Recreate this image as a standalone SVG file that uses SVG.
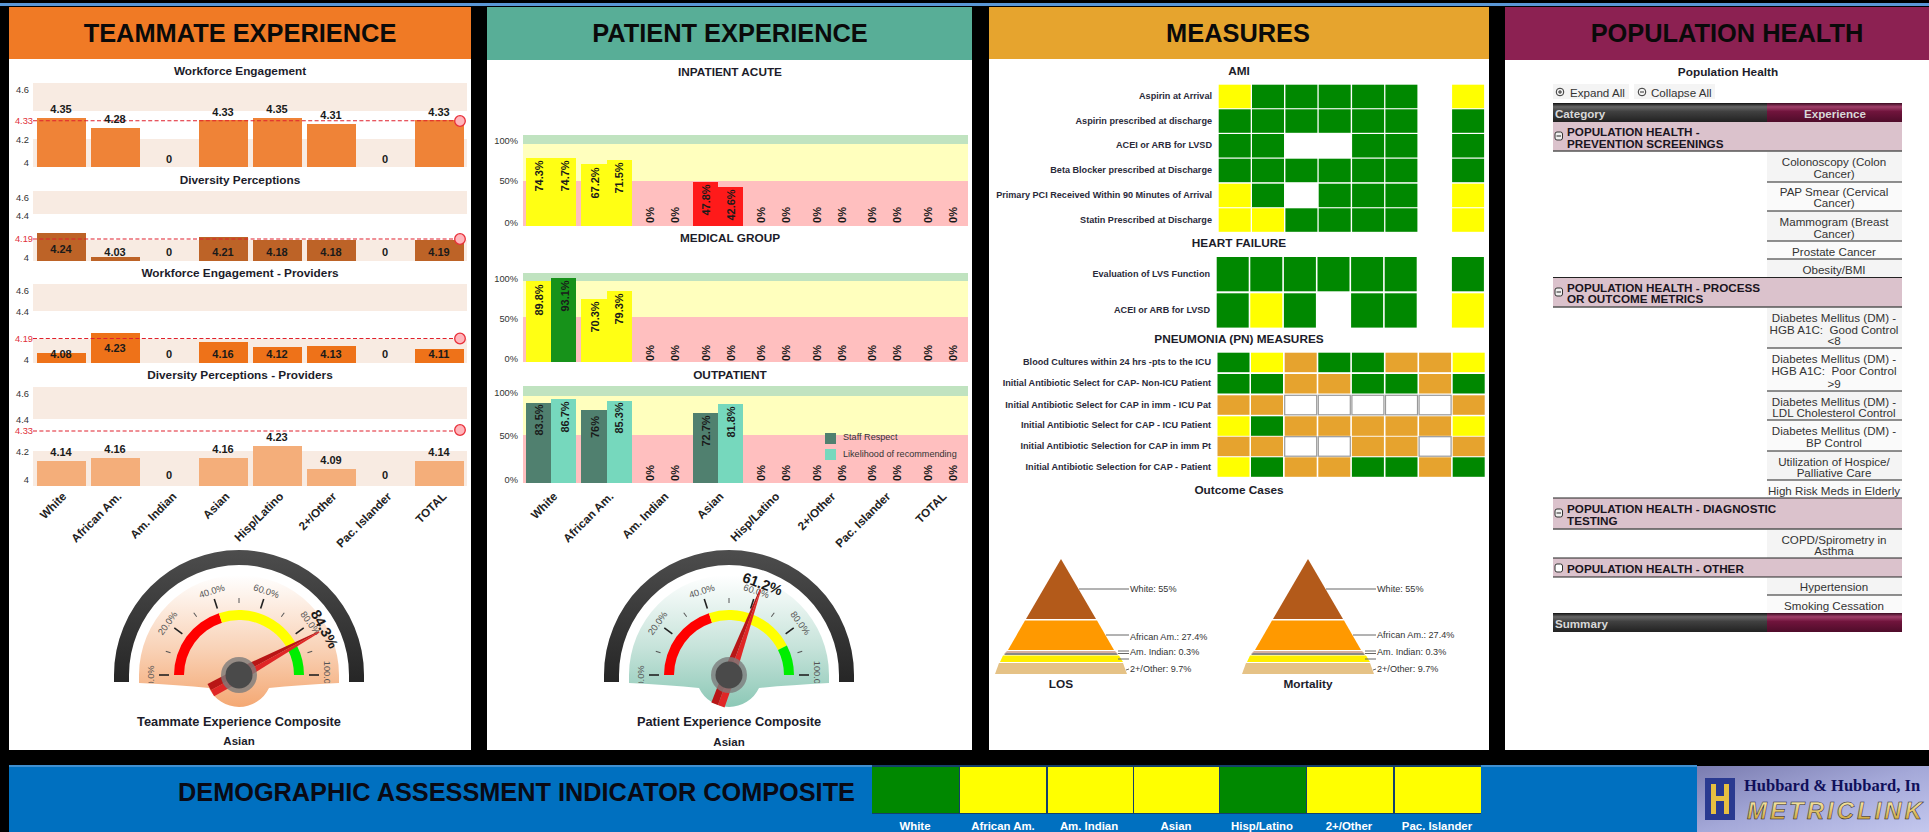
<svg xmlns="http://www.w3.org/2000/svg" width="1929" height="832" viewBox="0 0 1929 832">
<style>
text{font-family:"Liberation Sans",Arial,sans-serif;dominant-baseline:central}
.h{font-size:25.4px;font-weight:bold;text-anchor:middle;fill:#0a0a0a}
.t{font-size:11.8px;font-weight:bold;text-anchor:middle;fill:#1c1c2a}
.ax{font-size:9.3px;text-anchor:end;fill:#333}
.rd{fill:#e0303a}
.v{font-size:11px;font-weight:bold;text-anchor:middle;fill:#1a1a1a}
.xl{font-size:11.7px;font-weight:bold;text-anchor:end;fill:#222}
.pv{font-size:11px;font-weight:bold;text-anchor:middle;fill:#1a1a1a}
.m{font-size:9.1px;font-weight:bold;text-anchor:end;fill:#2a2a3a}
.py{font-size:9.1px;fill:#333}
.ln{stroke:#666;stroke-width:1;fill:none}
.g{fill:#008800}.y{fill:#ffff00}.o{fill:#e6a32e}.w{fill:#fff;stroke:#999;stroke-width:1.2}
.dash{stroke:#e0202c;stroke-width:1.1;stroke-dasharray:4 2.4;fill:none}
.dot{fill:#ffb6bc;stroke:#e8303a;stroke-width:1.3}
.pe{fill:#f8ebe2}
.sec{fill:#dbc2cc}
.cell{fill:#f4f4f4}.cell2{fill:#fafafa}
.sl{stroke:#222;stroke-width:1.2}
.ss{stroke:#555;stroke-width:1.4}
.ct{font-size:11.6px;text-anchor:middle;fill:#333}
.st{font-size:11.7px;font-weight:bold;fill:#1a1420}
.hd{font-size:11.6px;font-weight:bold;fill:#d8d8d8}
.dl{font-size:11.4px;font-weight:bold;text-anchor:middle;fill:#fff}
.gt{font-size:9.3px;text-anchor:middle;fill:#555}
.gv{font-size:14.5px;font-weight:bold;text-anchor:middle;fill:#1a1a1a}
.gc{font-size:12.8px;font-weight:bold;text-anchor:middle;fill:#1c1c2a}
.ga{font-size:11.5px;font-weight:bold;text-anchor:middle;fill:#1c1c2a}
.icon{fill:#f0f0f0;stroke:#333;stroke-width:1}
</style>
<defs>
<linearGradient id="ring" x1="0" y1="0" x2="0" y2="1"><stop offset="0" stop-color="#4d4d4d"/><stop offset="1" stop-color="#262626"/></linearGradient>
<linearGradient id="faceO" x1="0" y1="0" x2="0" y2="1"><stop offset="0" stop-color="#fff"/><stop offset=".55" stop-color="#f9d3b8"/><stop offset="1" stop-color="#f4a873"/></linearGradient>
<linearGradient id="faceT" x1="0" y1="0" x2="0" y2="1"><stop offset="0" stop-color="#fff"/><stop offset=".55" stop-color="#c6e3da"/><stop offset="1" stop-color="#8cc8b6"/></linearGradient>
<linearGradient id="thD" x1="0" y1="0" x2="0" y2="1"><stop offset="0" stop-color="#111"/><stop offset=".2" stop-color="#666"/><stop offset=".45" stop-color="#404040"/><stop offset="1" stop-color="#222"/></linearGradient>
<linearGradient id="thM" x1="0" y1="0" x2="0" y2="1"><stop offset="0" stop-color="#3a0a20"/><stop offset=".2" stop-color="#a0406a"/><stop offset=".45" stop-color="#70143c"/><stop offset="1" stop-color="#4f0c2a"/></linearGradient>
<linearGradient id="logo" x1="0" y1="0" x2="1" y2="1"><stop offset="0" stop-color="#7a7cb0"/><stop offset=".5" stop-color="#a4a8d8"/><stop offset="1" stop-color="#c4c8ee"/></linearGradient>
<linearGradient id="mk" x1="0" y1="0" x2="0" y2="1"><stop offset="0" stop-color="#fff6c0"/><stop offset="1" stop-color="#c89a28"/></linearGradient>
<clipPath id="gclip"><rect x="-120" y="-120" width="240" height="128"/></clipPath>
<g id="scale">
<path d="M-65,0A65,65 0 0 1 -20.1,-61.8L-17,-52.3A55,55 0 0 0 -55,0Z" fill="#ff0000"/>
<path d="M-20.1,-61.8A65,65 0 0 1 57.9,-29.5L49,-25A55,55 0 0 0 -17,-52.3Z" fill="#ffff00"/>
<path d="M57.9,-29.5A65,65 0 0 1 65,0L55,0A55,55 0 0 0 49,-25Z" fill="#00ee00"/>
<g stroke="#222" stroke-width="1.6">
<line x1="-80" x2="-70"/><line x1="-80" x2="-70" transform="rotate(36)"/><line x1="-80" x2="-70" transform="rotate(72)"/><line x1="-80" x2="-70" transform="rotate(108)"/><line x1="-80" x2="-70" transform="rotate(144)"/><line x1="-80" x2="-70" transform="rotate(180)"/>
</g>
<g stroke="#555" stroke-width="1">
<line x1="-77" x2="-72" transform="rotate(18)"/><line x1="-77" x2="-72" transform="rotate(54)"/><line x1="-77" x2="-72" transform="rotate(90)"/><line x1="-77" x2="-72" transform="rotate(126)"/><line x1="-77" x2="-72" transform="rotate(162)"/>
</g>
<g clip-path="url(#gclip)">
<text class="gt" x="-1" y="-88" transform="rotate(-90)">0.0%</text>
<text class="gt" y="-88" transform="rotate(-54)">20.0%</text>
<text class="gt" y="-88" transform="rotate(-18)">40.0%</text>
<text class="gt" y="-88" transform="rotate(18)">60.0%</text>
<text class="gt" y="-88" transform="rotate(54)">80.0%</text>
<text class="gt" x="1.5" y="-88" transform="rotate(90)">100.0%</text>
</g>
</g>
<path id="ringp" d="M-125,7L-125,0A125,125 0 0 1 125,0L125,7L110,7L110,0A110,110 0 0 0 -110,0L-110,7Z" fill="url(#ring)"/>
<path id="facep" d="M-100,8L-100,0A100,100 0 0 1 100,0L100,8Q60,10 30,13A33.2,33.2 0 0 1 -30,13Q-60,10 -100,8Z"/>
<g id="needle"><polygon points="-91,-.8 0,-6.5 32,-7 32,0 -91,0" fill="#e02626"/><polygon points="-91,.8 0,6.5 32,7 32,0 -91,0" fill="#b81616"/></g>
<g id="hub"><circle r="18" fill="#7c7c7c" fill-opacity=".8"/><circle r="13.5" fill="#4a4a4a"/></g>
</defs>

<rect width="1929" height="832" fill="#000"/>
<rect y="3" width="1929" height="3" fill="#5a97d6"/>

<g id="teammate-experience">
<rect x="9" y="7" width="462" height="743" fill="#fff"/>
<rect x="9" y="7" width="462" height="52" fill="#f07a25"/>
<text class="h" x="240" y="33">TEAMMATE EXPERIENCE</text>

<g id="workforce-engagement">
<text class="t" x="240" y="71">Workforce Engagement</text>
<rect class="pe" x="33" y="83" width="434" height="28"/><rect class="pe" x="33" y="139" width="434" height="28"/>
<text class="ax" x="29" y="90">4.6</text><text class="ax rd" x="33" y="121">4.33</text><text class="ax" x="29" y="140">4.2</text><text class="ax" x="29" y="163">4</text>
<g fill="#ef8337"><rect x="37" y="118" width="49" height="49"/><rect x="91" y="128" width="49" height="39"/><rect x="199" y="120" width="49" height="47"/><rect x="253" y="118" width="49" height="49"/><rect x="307" y="124" width="49" height="43"/><rect x="415" y="120" width="49" height="47"/></g>
<line class="dash" x1="33" x2="460" y1="120.7" y2="120.7"/><circle class="dot" cx="460" cy="121" r="5.3"/>
<text class="v" x="61" y="109">4.35</text><text class="v" x="115" y="119">4.28</text><text class="v" x="169" y="159">0</text><text class="v" x="223" y="112">4.33</text><text class="v" x="277" y="109">4.35</text><text class="v" x="331" y="115">4.31</text><text class="v" x="385" y="159">0</text><text class="v" x="439" y="112">4.33</text>
</g>

<g id="diversity-perceptions">
<text class="t" x="240" y="180">Diversity Perceptions</text>
<rect class="pe" x="33" y="191" width="434" height="23"/><rect class="pe" x="33" y="240" width="434" height="21"/>
<text class="ax" x="29" y="198">4.6</text><text class="ax" x="29" y="216">4.4</text><text class="ax rd" x="33" y="239">4.19</text><text class="ax" x="29" y="258">4</text>
<g fill="#bd6327"><rect x="37" y="233" width="49" height="28"/><rect x="91" y="257" width="49" height="4"/><rect x="199" y="237" width="49" height="24"/><rect x="253" y="240" width="49" height="21"/><rect x="307" y="240" width="49" height="21"/><rect x="415" y="240" width="49" height="21"/></g>
<line class="dash" x1="33" x2="460" y1="239" y2="239"/><circle class="dot" cx="460" cy="239" r="5.3"/>
<text class="v" x="61" y="249">4.24</text><text class="v" x="115" y="252">4.03</text><text class="v" x="169" y="252">0</text><text class="v" x="223" y="252">4.21</text><text class="v" x="277" y="252">4.18</text><text class="v" x="331" y="252">4.18</text><text class="v" x="385" y="252">0</text><text class="v" x="439" y="252">4.19</text>
</g>

<g id="workforce-engagement-providers">
<text class="t" x="240" y="273">Workforce Engagement - Providers</text>
<rect class="pe" x="33" y="284" width="434" height="27"/><rect class="pe" x="33" y="339" width="434" height="24"/>
<text class="ax" x="29" y="291">4.6</text><text class="ax" x="29" y="312">4.4</text><text class="ax rd" x="33" y="339">4.19</text><text class="ax" x="29" y="360">4</text>
<g fill="#ee7219"><rect x="37" y="353" width="49" height="10"/><rect x="91" y="333" width="49" height="30"/><rect x="199" y="342" width="49" height="21"/><rect x="253" y="347" width="49" height="16"/><rect x="307" y="346" width="49" height="17"/><rect x="415" y="349" width="49" height="14"/></g>
<line class="dash" x1="33" x2="460" y1="338.5" y2="338.5"/><circle class="dot" cx="460" cy="338.5" r="5.3"/>
<text class="v" x="61" y="354">4.08</text><text class="v" x="115" y="348">4.23</text><text class="v" x="169" y="354">0</text><text class="v" x="223" y="354">4.16</text><text class="v" x="277" y="354">4.12</text><text class="v" x="331" y="354">4.13</text><text class="v" x="385" y="354">0</text><text class="v" x="439" y="354">4.11</text>
</g>

<g id="diversity-perceptions-providers">
<text class="t" x="240" y="375">Diversity Perceptions - Providers</text>
<rect class="pe" x="33" y="387" width="434" height="32"/><rect class="pe" x="33" y="451" width="434" height="35"/>
<text class="ax" x="29" y="394">4.6</text><text class="ax" x="29" y="420">4.4</text><text class="ax rd" x="33" y="431">4.33</text><text class="ax" x="29" y="452">4.2</text><text class="ax" x="29" y="480">4</text>
<g fill="#f4ae7a"><rect x="37" y="461" width="49" height="25"/><rect x="91" y="458" width="49" height="28"/><rect x="199" y="458" width="49" height="28"/><rect x="253" y="446" width="49" height="40"/><rect x="307" y="469" width="49" height="17"/><rect x="415" y="461" width="49" height="25"/></g>
<line class="dash" x1="33" x2="460" y1="431" y2="431"/><circle class="dot" cx="460" cy="430" r="5.3"/>
<text class="v" x="61" y="452">4.14</text><text class="v" x="115" y="449">4.16</text><text class="v" x="169" y="475">0</text><text class="v" x="223" y="449">4.16</text><text class="v" x="277" y="437">4.23</text><text class="v" x="331" y="460">4.09</text><text class="v" x="385" y="475">0</text><text class="v" x="439" y="452">4.14</text>
</g>

<g id="teammate-axis">
<text class="xl" transform="translate(64,494) rotate(-45)">White</text>
<text class="xl" transform="translate(119,494) rotate(-45)">African Am.</text>
<text class="xl" transform="translate(174,494) rotate(-45)">Am. Indian</text>
<text class="xl" transform="translate(227,494) rotate(-45)">Asian</text>
<text class="xl" transform="translate(281,494) rotate(-45)">Hisp/Latino</text>
<text class="xl" transform="translate(334,494) rotate(-45)">2+/Other</text>
<text class="xl" transform="translate(389,494) rotate(-45)">Pac. Islander</text>
<text class="xl" transform="translate(444,494) rotate(-45)">TOTAL</text>
</g>

<g id="teammate-gauge" transform="translate(239,675)">
<use href="#ringp"/>
<use href="#facep" fill="url(#faceO)"/>
<use href="#scale"/>
<use href="#needle" transform="rotate(151.7)"/>
<use href="#hub"/>
<text class="gv" y="-97" transform="rotate(61.7)">84.3%</text>
<text class="gc" y="46">Teammate Experience Composite</text>
<text class="ga" y="66">Asian</text>
</g>
</g>

<g id="patient-experience">
<rect x="487" y="7" width="485" height="743" fill="#fff"/>
<rect x="487" y="7" width="485" height="53" fill="#58ae97"/>
<text class="h" x="730" y="33">PATIENT EXPERIENCE</text>

<g id="inpatient-acute">
<text class="t" x="730" y="72">INPATIENT ACUTE</text>
<rect x="523" y="135" width="445" height="9" fill="#c0e3c0"/><rect x="523" y="144" width="445" height="37" fill="#ffffbe"/><rect x="523" y="181" width="445" height="45" fill="#ffbfbf"/>
<text class="ax" x="518" y="141">100%</text><text class="ax" x="518" y="181">50%</text><text class="ax" x="518" y="223">0%</text>
<g fill="#ffff14"><rect x="526" y="158" width="25" height="68"/><rect x="551" y="158" width="25" height="68"/><rect x="581" y="164" width="26" height="62"/><rect x="607" y="160" width="25" height="66"/></g>
<g fill="#ff1a1a"><rect x="693" y="182" width="25" height="44"/><rect x="718" y="187" width="25" height="39"/></g>
<text class="pv" transform="translate(539,176) rotate(-90)">74.3%</text><text class="pv" transform="translate(565,176) rotate(-90)">74.7%</text><text class="pv" transform="translate(595,183) rotate(-90)">67.2%</text><text class="pv" transform="translate(619,178) rotate(-90)">71.5%</text><text class="pv" transform="translate(650,215) rotate(-90)">0%</text><text class="pv" transform="translate(675,215) rotate(-90)">0%</text><text class="pv" transform="translate(706,200) rotate(-90)">47.8%</text><text class="pv" transform="translate(731,205) rotate(-90)">42.6%</text><text class="pv" transform="translate(761,215) rotate(-90)">0%</text><text class="pv" transform="translate(786,215) rotate(-90)">0%</text><text class="pv" transform="translate(817,215) rotate(-90)">0%</text><text class="pv" transform="translate(842,215) rotate(-90)">0%</text><text class="pv" transform="translate(872,215) rotate(-90)">0%</text><text class="pv" transform="translate(897,215) rotate(-90)">0%</text><text class="pv" transform="translate(928,215) rotate(-90)">0%</text><text class="pv" transform="translate(953,215) rotate(-90)">0%</text>
</g>

<g id="medical-group">
<text class="t" x="730" y="238">MEDICAL GROUP</text>
<rect x="523" y="273" width="445" height="8" fill="#c0e3c0"/><rect x="523" y="281" width="445" height="36" fill="#ffffbe"/><rect x="523" y="317" width="445" height="45" fill="#ffbfbf"/>
<text class="ax" x="518" y="279">100%</text><text class="ax" x="518" y="319">50%</text><text class="ax" x="518" y="359">0%</text>
<g fill="#ffff14"><rect x="526" y="281" width="25" height="81"/><rect x="581" y="299" width="26" height="63"/><rect x="607" y="291" width="25" height="71"/></g>
<rect x="551" y="278" width="25" height="84" fill="#17921a"/>
<text class="pv" transform="translate(539,300) rotate(-90)">89.8%</text><text class="pv" transform="translate(565,296) rotate(-90)">93.1%</text><text class="pv" transform="translate(595,317) rotate(-90)">70.3%</text><text class="pv" transform="translate(619,309) rotate(-90)">79.3%</text><text class="pv" transform="translate(650,353) rotate(-90)">0%</text><text class="pv" transform="translate(675,353) rotate(-90)">0%</text><text class="pv" transform="translate(706,353) rotate(-90)">0%</text><text class="pv" transform="translate(731,353) rotate(-90)">0%</text><text class="pv" transform="translate(761,353) rotate(-90)">0%</text><text class="pv" transform="translate(786,353) rotate(-90)">0%</text><text class="pv" transform="translate(817,353) rotate(-90)">0%</text><text class="pv" transform="translate(842,353) rotate(-90)">0%</text><text class="pv" transform="translate(872,353) rotate(-90)">0%</text><text class="pv" transform="translate(897,353) rotate(-90)">0%</text><text class="pv" transform="translate(928,353) rotate(-90)">0%</text><text class="pv" transform="translate(953,353) rotate(-90)">0%</text>
</g>

<g id="outpatient">
<text class="t" x="730" y="375">OUTPATIENT</text>
<rect x="523" y="386" width="445" height="10" fill="#c0e3c0"/><rect x="523" y="396" width="445" height="39" fill="#ffffbe"/><rect x="523" y="435" width="445" height="48" fill="#ffbfbf"/>
<text class="ax" x="518" y="393">100%</text><text class="ax" x="518" y="436">50%</text><text class="ax" x="518" y="480">0%</text>
<g fill="#50806f"><rect x="526" y="403" width="25" height="80"/><rect x="581" y="410" width="26" height="73"/><rect x="693" y="413" width="25" height="70"/></g>
<g fill="#76d8bd"><rect x="551" y="399" width="25" height="84"/><rect x="607" y="401" width="25" height="82"/><rect x="718" y="404" width="25" height="79"/></g>
<text class="pv" transform="translate(539,420) rotate(-90)">83.5%</text><text class="pv" transform="translate(565,417) rotate(-90)">86.7%</text><text class="pv" transform="translate(595,427) rotate(-90)">76%</text><text class="pv" transform="translate(619,418) rotate(-90)">85.3%</text><text class="pv" transform="translate(650,473) rotate(-90)">0%</text><text class="pv" transform="translate(675,473) rotate(-90)">0%</text><text class="pv" transform="translate(706,431) rotate(-90)">72.7%</text><text class="pv" transform="translate(731,422) rotate(-90)">81.8%</text><text class="pv" transform="translate(761,473) rotate(-90)">0%</text><text class="pv" transform="translate(786,473) rotate(-90)">0%</text><text class="pv" transform="translate(817,473) rotate(-90)">0%</text><text class="pv" transform="translate(842,473) rotate(-90)">0%</text><text class="pv" transform="translate(872,473) rotate(-90)">0%</text><text class="pv" transform="translate(897,473) rotate(-90)">0%</text><text class="pv" transform="translate(928,473) rotate(-90)">0%</text><text class="pv" transform="translate(953,473) rotate(-90)">0%</text>
<rect x="825" y="433" width="11" height="11" fill="#50806f"/><rect x="825" y="449" width="11" height="11" fill="#76d8bd"/>
<text class="py" x="843" y="437">Staff Respect</text><text class="py" x="843" y="454">Likelihood of recommending</text>
</g>

<g id="patient-axis">
<text class="xl" transform="translate(555,494) rotate(-45)">White</text>
<text class="xl" transform="translate(611,494) rotate(-45)">African Am.</text>
<text class="xl" transform="translate(666,494) rotate(-45)">Am. Indian</text>
<text class="xl" transform="translate(721,494) rotate(-45)">Asian</text>
<text class="xl" transform="translate(777,494) rotate(-45)">Hisp/Latino</text>
<text class="xl" transform="translate(833,494) rotate(-45)">2+/Other</text>
<text class="xl" transform="translate(888,494) rotate(-45)">Pac. Islander</text>
<text class="xl" transform="translate(944,494) rotate(-45)">TOTAL</text>
</g>

<g id="patient-gauge" transform="translate(729,675)">
<use href="#ringp"/>
<use href="#facep" fill="url(#faceT)"/>
<use href="#scale"/>
<use href="#needle" transform="rotate(110.2)"/>
<use href="#hub"/>
<text class="gv" y="-97" transform="rotate(20.2)">61.2%</text>
<text class="gc" y="46">Patient Experience Composite</text>
<text class="ga" y="67">Asian</text>
</g>
</g>

<g id="measures">
<rect x="989" y="7" width="500" height="743" fill="#fff"/>
<rect x="989" y="7" width="500" height="52" fill="#e6a42e"/>
<text class="h" x="1238" y="33">MEASURES</text>

<g id="ami">
<text class="t" x="1239" y="71">AMI</text>
<text class="m" x="1212" y="96">Aspirin at Arrival</text><text class="m" x="1212" y="121">Aspirin prescribed at discharge</text><text class="m" x="1212" y="145">ACEI or ARB for LVSD</text><text class="m" x="1212" y="170">Beta Blocker prescribed at Discharge</text><text class="m" x="1212" y="195">Primary PCI Received Within 90 Minutes of Arrival</text><text class="m" x="1212" y="220">Statin Prescribed at Discharge</text>
<g>
<rect class="y" x="1218.7" y="84.7" width="32" height="23.5"/><rect class="g" x="1252" y="84.7" width="32" height="23.5"/><rect class="g" x="1285.4" y="84.7" width="32" height="23.5"/><rect class="g" x="1318.7" y="84.7" width="32" height="23.5"/><rect class="g" x="1352.1" y="84.7" width="32" height="23.5"/><rect class="g" x="1385.4" y="84.7" width="32" height="23.5"/><rect class="y" x="1452.1" y="84.7" width="32" height="23.5"/>
<rect class="g" x="1218.7" y="109.3" width="32" height="23.5"/><rect class="g" x="1252" y="109.3" width="32" height="23.5"/><rect class="g" x="1285.4" y="109.3" width="32" height="23.5"/><rect class="g" x="1318.7" y="109.3" width="32" height="23.5"/><rect class="g" x="1352.1" y="109.3" width="32" height="23.5"/><rect class="g" x="1385.4" y="109.3" width="32" height="23.5"/><rect class="g" x="1452.1" y="109.3" width="32" height="23.5"/>
<rect class="g" x="1218.7" y="134" width="32" height="23.5"/><rect class="g" x="1252" y="134" width="32" height="23.5"/><rect class="g" x="1352.1" y="134" width="32" height="23.5"/><rect class="g" x="1385.4" y="134" width="32" height="23.5"/><rect class="g" x="1452.1" y="134" width="32" height="23.5"/>
<rect class="g" x="1218.7" y="158.7" width="32" height="23.5"/><rect class="g" x="1252" y="158.7" width="32" height="23.5"/><rect class="g" x="1285.4" y="158.7" width="32" height="23.5"/><rect class="g" x="1318.7" y="158.7" width="32" height="23.5"/><rect class="g" x="1352.1" y="158.7" width="32" height="23.5"/><rect class="g" x="1385.4" y="158.7" width="32" height="23.5"/><rect class="g" x="1452.1" y="158.7" width="32" height="23.5"/>
<rect class="y" x="1218.7" y="183.7" width="32" height="23.5"/><rect class="g" x="1252" y="183.7" width="32" height="23.5"/><rect class="g" x="1318.7" y="183.7" width="32" height="23.5"/><rect class="g" x="1352.1" y="183.7" width="32" height="23.5"/><rect class="g" x="1385.4" y="183.7" width="32" height="23.5"/><rect class="y" x="1452.1" y="183.7" width="32" height="23.5"/>
<rect class="y" x="1218.7" y="208.3" width="32" height="23.5"/><rect class="y" x="1252" y="208.3" width="32" height="23.5"/><rect class="g" x="1285.4" y="208.3" width="32" height="23.5"/><rect class="g" x="1318.7" y="208.3" width="32" height="23.5"/><rect class="g" x="1352.1" y="208.3" width="32" height="23.5"/><rect class="g" x="1385.4" y="208.3" width="32" height="23.5"/><rect class="y" x="1452.1" y="208.3" width="32" height="23.5"/>
</g>
</g>

<g id="heart-failure">
<text class="t" x="1239" y="243">HEART FAILURE</text>
<text class="m" x="1210" y="274">Evaluation of LVS Function</text><text class="m" x="1210" y="310">ACEI or ARB for LVSD</text>
<rect class="g" x="1216.7" y="257" width="32" height="34.3"/><rect class="g" x="1250.3" y="257" width="32" height="34.3"/><rect class="g" x="1283.9" y="257" width="32" height="34.3"/><rect class="g" x="1317.5" y="257" width="32" height="34.3"/><rect class="g" x="1351.1" y="257" width="32" height="34.3"/><rect class="g" x="1384.7" y="257" width="32" height="34.3"/><rect class="g" x="1451.9" y="257" width="32" height="34.3"/>
<rect class="g" x="1216.7" y="293.3" width="32" height="34.3"/><rect class="y" x="1250.3" y="293.3" width="32" height="34.3"/><rect class="g" x="1283.9" y="293.3" width="32" height="34.3"/><rect class="g" x="1351.1" y="293.3" width="32" height="34.3"/><rect class="g" x="1384.7" y="293.3" width="32" height="34.3"/><rect class="y" x="1451.9" y="293.3" width="32" height="34.3"/>
</g>

<g id="pneumonia">
<text class="t" x="1239" y="339">PNEUMONIA (PN) MEASURES</text>
<text class="m" x="1211" y="362">Blood Cultures within 24 hrs -pts to the ICU</text><text class="m" x="1211" y="383">Initial Antibiotic Select for CAP- Non-ICU Patient</text><text class="m" x="1211" y="405">Initial Antibiotic Select for CAP in imm - ICU Pat</text><text class="m" x="1211" y="425">Initial Antibiotic Select for CAP - ICU Patient</text><text class="m" x="1211" y="446">Initial Antibiotic Selection for CAP in imm Pt</text><text class="m" x="1211" y="467">Initial Antibiotic Selection for CAP - Patient</text>
<rect class="g" x="1217.5" y="352.7" width="32" height="19.5"/><rect class="y" x="1251" y="352.7" width="32" height="19.5"/><rect class="o" x="1284.7" y="352.7" width="32" height="19.5"/><rect class="g" x="1318.3" y="352.7" width="32" height="19.5"/><rect class="g" x="1351.9" y="352.7" width="32" height="19.5"/><rect class="o" x="1385.5" y="352.7" width="32" height="19.5"/><rect class="o" x="1419.1" y="352.7" width="32" height="19.5"/><rect class="y" x="1452.7" y="352.7" width="32" height="19.5"/>
<rect class="g" x="1217.5" y="374" width="32" height="19.5"/><rect class="g" x="1251" y="374" width="32" height="19.5"/><rect class="o" x="1284.7" y="374" width="32" height="19.5"/><rect class="o" x="1318.3" y="374" width="32" height="19.5"/><rect class="g" x="1351.9" y="374" width="32" height="19.5"/><rect class="g" x="1385.5" y="374" width="32" height="19.5"/><rect class="o" x="1419.1" y="374" width="32" height="19.5"/><rect class="g" x="1452.7" y="374" width="32" height="19.5"/>
<rect class="o" x="1217.5" y="395.3" width="32" height="19.5"/><rect class="o" x="1251" y="395.3" width="32" height="19.5"/><rect class="w" x="1284.7" y="395.3" width="32" height="19.5"/><rect class="w" x="1318.3" y="395.3" width="32" height="19.5"/><rect class="w" x="1351.9" y="395.3" width="32" height="19.5"/><rect class="w" x="1385.5" y="395.3" width="32" height="19.5"/><rect class="w" x="1419.1" y="395.3" width="32" height="19.5"/><rect class="o" x="1452.7" y="395.3" width="32" height="19.5"/>
<rect class="y" x="1217.5" y="416.3" width="32" height="19.5"/><rect class="g" x="1251" y="416.3" width="32" height="19.5"/><rect class="o" x="1284.7" y="416.3" width="32" height="19.5"/><rect class="o" x="1318.3" y="416.3" width="32" height="19.5"/><rect class="o" x="1351.9" y="416.3" width="32" height="19.5"/><rect class="o" x="1385.5" y="416.3" width="32" height="19.5"/><rect class="o" x="1419.1" y="416.3" width="32" height="19.5"/><rect class="y" x="1452.7" y="416.3" width="32" height="19.5"/>
<rect class="o" x="1217.5" y="436.7" width="32" height="19.5"/><rect class="o" x="1251" y="436.7" width="32" height="19.5"/><rect class="w" x="1284.7" y="436.7" width="32" height="19.5"/><rect class="w" x="1318.3" y="436.7" width="32" height="19.5"/><rect class="o" x="1351.9" y="436.7" width="32" height="19.5"/><rect class="o" x="1385.5" y="436.7" width="32" height="19.5"/><rect class="w" x="1419.1" y="436.7" width="32" height="19.5"/><rect class="o" x="1452.7" y="436.7" width="32" height="19.5"/>
<rect class="y" x="1217.5" y="457.3" width="32" height="19.5"/><rect class="g" x="1251" y="457.3" width="32" height="19.5"/><rect class="o" x="1284.7" y="457.3" width="32" height="19.5"/><rect class="o" x="1318.3" y="457.3" width="32" height="19.5"/><rect class="g" x="1351.9" y="457.3" width="32" height="19.5"/><rect class="g" x="1385.5" y="457.3" width="32" height="19.5"/><rect class="o" x="1419.1" y="457.3" width="32" height="19.5"/><rect class="g" x="1452.7" y="457.3" width="32" height="19.5"/>
</g>

<g id="outcome-cases">
<text class="t" x="1239" y="490">Outcome Cases</text>
<g id="pyramid-los">
<polygon points="1061,559 1096,619 1026,619" fill="#b35a1a"/>
<polygon points="1025,620.5 1097,620.5 1114,650 1008,650" fill="#ff9900"/>
<polygon points="1007,651 1115,651 1118,654 1004,654" fill="#d8b0a0"/>
<polygon points="1006,653 1116,653 1118,655 1004,655" fill="#888"/>
<polygon points="1003,655.5 1119,655.5 1123,662 1000,662" fill="#ffee00"/>
<polygon points="999,663 1123,663 1127,674 995,674" fill="#e5c286"/>
<path class="ln" d="M1079,589H1129M1106,635H1129M1118,651H1129M1118,653.5H1129M1118,659H1129M1126,670L1129,669"/>
<text class="py" x="1130" y="589">White: 55%</text><text class="py" x="1130" y="637">African Am.: 27.4%</text><text class="py" x="1130" y="652">Am. Indian: 0.3%</text><text class="py" x="1130" y="669">2+/Other: 9.7%</text>
<text class="t" x="1061" y="684">LOS</text>
</g>
<g id="pyramid-mortality">
<polygon points="1308,559 1343,619 1273,619" fill="#b35a1a"/>
<polygon points="1272,620.5 1344,620.5 1361,650 1255,650" fill="#ff9900"/>
<polygon points="1254,651 1362,651 1365,654 1251,654" fill="#d8b0a0"/>
<polygon points="1253,653 1363,653 1365,655 1251,655" fill="#888"/>
<polygon points="1250,655.5 1366,655.5 1370,662 1247,662" fill="#ffee00"/>
<polygon points="1246,663 1370,663 1374,674 1242,674" fill="#e5c286"/>
<path class="ln" d="M1326,589H1376M1353,635H1376M1365,651H1376M1365,653.5H1376M1365,659H1376M1373,670L1376,669"/>
<text class="py" x="1377" y="589">White: 55%</text><text class="py" x="1377" y="635">African Am.: 27.4%</text><text class="py" x="1377" y="652">Am. Indian: 0.3%</text><text class="py" x="1377" y="669">2+/Other: 9.7%</text>
<text class="t" x="1308" y="684">Mortality</text>
</g>
</g>
</g>

<g id="population-health">
<rect x="1505" y="7" width="424" height="743" fill="#fff"/>
<rect x="1505" y="7" width="424" height="53" fill="#8c2152"/>
<text class="h" x="1727" y="33">POPULATION HEALTH</text>
<text class="t" x="1728" y="72">Population Health</text>
<rect x="1553" y="84" width="76" height="15" fill="#f4f4f4"/><rect x="1634" y="84" width="81" height="15" fill="#f4f4f4"/>
<circle cx="1560" cy="92" r="3.8" fill="none" stroke="#333"/><path d="M1558,92h4M1560,90v4" stroke="#333"/>
<circle cx="1642" cy="92" r="3.8" fill="none" stroke="#333"/><path d="M1640,92h4" stroke="#333"/>
<text x="1570" y="92" style="font-size:11.6px" fill="#333">Expand All</text><text x="1651" y="92" style="font-size:11.6px" fill="#333">Collapse All</text>

<g id="table-header">
<rect x="1553" y="103" width="214" height="19" fill="url(#thD)"/><rect x="1767" y="103" width="135" height="19" fill="url(#thM)"/>
<text class="hd" x="1555" y="113">Category</text><text class="hd" x="1835" y="113" text-anchor="middle">Experience</text>
</g>

<g id="section-prevention">
<rect class="sec" x="1553" y="122" width="349" height="29"/><line class="ss" x1="1553" x2="1902" y1="151" y2="151"/>
<rect class="icon" x="1555" y="132" width="7.5" height="8" rx="2"/><path d="M1556.5,136h4.5" stroke="#222"/>
<text class="st" x="1567" y="131">POPULATION HEALTH -</text><text class="st" x="1567" y="143">PREVENTION SCREENINGS</text>
<rect class="cell" x="1767" y="152" width="135" height="30"/><rect class="cell2" x="1767" y="182" width="135" height="29"/><rect class="cell" x="1767" y="211" width="135" height="30"/><rect class="cell2" x="1767" y="241" width="135" height="18"/><rect class="cell" x="1767" y="259" width="135" height="18"/>
<path class="sl" d="M1767,182H1902M1767,211H1902M1767,241H1902M1767,259H1902"/>
<text class="ct" x="1834" y="161">Colonoscopy (Colon</text><text class="ct" x="1834" y="173">Cancer)</text>
<text class="ct" x="1834" y="191">PAP Smear (Cervical</text><text class="ct" x="1834" y="202">Cancer)</text>
<text class="ct" x="1834" y="221">Mammogram (Breast</text><text class="ct" x="1834" y="233">Cancer)</text>
<text class="ct" x="1834" y="251">Prostate Cancer</text><text class="ct" x="1834" y="269">Obesity/BMI</text>
</g>

<g id="section-process">
<rect class="sec" x="1553" y="278" width="349" height="29"/><line class="sl" x1="1553" x2="1902" y1="277.5" y2="277.5"/><line class="ss" x1="1553" x2="1902" y1="307" y2="307"/>
<rect class="icon" x="1555" y="288" width="7.5" height="8" rx="2"/><path d="M1556.5,292h4.5" stroke="#222"/>
<text class="st" x="1567" y="287">POPULATION HEALTH - PROCESS</text><text class="st" x="1567" y="298">OR OUTCOME METRICS</text>
<rect class="cell" x="1767" y="308" width="135" height="40"/><rect class="cell2" x="1767" y="348" width="135" height="43"/><rect class="cell" x="1767" y="391" width="135" height="29"/><rect class="cell2" x="1767" y="420" width="135" height="31"/><rect class="cell" x="1767" y="451" width="135" height="29"/><rect class="cell2" x="1767" y="480" width="135" height="18"/>
<path class="sl" d="M1767,348H1902M1767,391H1902M1767,420H1902M1767,451H1902M1767,480H1902"/>
<text class="ct" x="1834" y="317">Diabetes Mellitus (DM) -</text><text class="ct" x="1834" y="329" xml:space="preserve">HGB A1C:  Good Control</text><text class="ct" x="1834" y="340">&lt;8</text>
<text class="ct" x="1834" y="358">Diabetes Mellitus (DM) -</text><text class="ct" x="1834" y="370" xml:space="preserve">HGB A1C:  Poor Control</text><text class="ct" x="1834" y="383">&gt;9</text>
<text class="ct" x="1834" y="401">Diabetes Mellitus (DM) -</text><text class="ct" x="1834" y="412">LDL Cholesterol Control</text>
<text class="ct" x="1834" y="430">Diabetes Mellitus (DM) -</text><text class="ct" x="1834" y="442">BP Control</text>
<text class="ct" x="1834" y="461">Utilization of Hospice/</text><text class="ct" x="1834" y="472">Palliative Care</text>
<text class="ct" x="1834" y="490">High Risk Meds in Elderly</text>
</g>

<g id="section-diagnostic">
<rect class="sec" x="1553" y="498" width="349" height="31"/><line class="sl" x1="1553" x2="1902" y1="498" y2="498"/><line class="ss" x1="1553" x2="1902" y1="529" y2="529"/>
<rect class="icon" x="1555" y="509" width="7.5" height="8" rx="2"/><path d="M1556.5,513h4.5" stroke="#222"/>
<text class="st" x="1567" y="508">POPULATION HEALTH - DIAGNOSTIC</text><text class="st" x="1567" y="520">TESTING</text>
<rect class="cell" x="1767" y="530" width="135" height="28"/>
<text class="ct" x="1834" y="539">COPD/Spirometry in</text><text class="ct" x="1834" y="550">Asthma</text>
</g>

<g id="section-other">
<rect class="sec" x="1553" y="558" width="349" height="19"/><line class="sl" x1="1553" x2="1902" y1="558" y2="558"/><line class="sl" x1="1553" x2="1902" y1="577" y2="577"/>
<rect class="icon" x="1555" y="564" width="7.5" height="8" rx="2" style="fill:#fff"/>
<text class="st" x="1567" y="568">POPULATION HEALTH - OTHER</text>
<rect class="cell" x="1767" y="578" width="135" height="17"/><rect class="cell2" x="1767" y="595" width="135" height="18"/>
<path class="sl" d="M1767,595H1902"/>
<text class="ct" x="1834" y="586">Hypertension</text><text class="ct" x="1834" y="605">Smoking Cessation</text>
</g>

<g id="table-summary">
<rect x="1553" y="613" width="214" height="19" fill="url(#thD)"/><rect x="1767" y="613" width="135" height="19" fill="url(#thM)"/>
<text class="hd" x="1555" y="623">Summary</text>
</g>
</g>

<g id="demographic-band">
<rect x="9" y="766" width="1688" height="66" fill="#0070c0"/>
<rect x="9" y="765" width="1688" height="2" fill="#3f8fd0"/>
<text x="178" y="792" style="font-size:25.3px;font-weight:bold" fill="#0a0a14">DEMOGRAPHIC ASSESSMENT INDICATOR COMPOSITE</text>
<rect x="872" y="765" width="609" height="49" fill="#14406a"/>
<rect class="g" x="872" y="767" width="87" height="46"/><rect class="y" x="960" y="767" width="86" height="46"/><rect class="y" x="1048" y="767" width="85" height="46"/><rect class="y" x="1134" y="767" width="85" height="46"/><rect class="g" x="1220" y="767" width="86" height="46"/><rect class="y" x="1307" y="767" width="86" height="46"/><rect class="y" x="1395" y="767" width="86" height="46"/>
<text class="dl" x="915" y="826">White</text><text class="dl" x="1003" y="826">African Am.</text><text class="dl" x="1089" y="826">Am. Indian</text><text class="dl" x="1176" y="826">Asian</text><text class="dl" x="1262" y="826">Hisp/Latino</text><text class="dl" x="1349" y="826">2+/Other</text><text class="dl" x="1437" y="826">Pac. Islander</text>
</g>

<g id="logo-box">
<rect x="1697" y="766" width="232" height="66" fill="url(#logo)"/>
<rect x="1705" y="778" width="30" height="42" fill="#2a3a90"/>
<path d="M1711,784h5v12h8v-12h5v30h-5v-13h-8v13h-5z" fill="#e8c040"/>
<text x="1744" y="785" style="font-family:'Liberation Serif',serif;font-size:16.5px;font-weight:bold" fill="#10105a">Hubbard &amp; Hubbard, In</text>
<text x="1747" y="810" style="font-size:24px;font-weight:bold;font-style:italic;letter-spacing:3px" fill="url(#mk)" stroke="#1a1a30" stroke-width=".5">METRICLINK</text>
</g>
</svg>
